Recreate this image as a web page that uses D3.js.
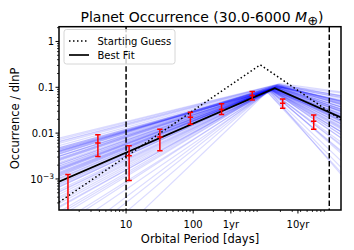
<!DOCTYPE html>
<html><head><meta charset="utf-8">
<script src="https://cdn.jsdelivr.net/npm/d3@7"></script>
<style>html,body{margin:0;padding:0;background:#fff;}svg{display:block;font-family:"DejaVu Sans",sans-serif;}</style>
</head><body>
<svg id="c" width="354" height="250"></svg>
<script>
// ---- data ----
const xTickValues = [10, 100, 365, 3650];
const xTickLabels = ["10", "100", "1yr", "10yr"];
const yTickValues = [1, 0.1, 0.01, 0.001];
const yTickLabels = ["1", "0.1", "0.01", "10^-3"];
const limitLines = [10, 10700];

const obsP  = [1.36, 3.8, 11.1, 31.9, 91, 265, 760, 2160, 6270];
const obsY  = [1.5e-4, 6.1e-3, 3.2e-3, 8.2e-3, 0.0221, 0.0326, 0.066, 0.0448, 0.0181];
const obsLo = [1e-5, 3.1e-3, 9.2e-4, 4.1e-3, 0.0157, 0.0254, 0.053, 0.0347, 0.0121];
const obsHi = [1.25e-3, 9.2e-3, 5.3e-3, 0.0122, 0.0284, 0.0435, 0.0805, 0.0558, 0.025];

const guessP = [1, 1000, 16000];
const guessY = [3.1e-4, 0.31, 0.0195];
const fitP = [1, 1650, 16000];
const fitY = [8.7e-4, 0.096, 0.022];

// posterior samples: break period (days), height at break, inner slope, outer slope
const samplePeak = [1600,1750,1400,1900,1550,1680,1300,2100,1500,1820,1450,1700,1250,1950,1620,1380,2000,1580,1720,1480,
1660,1350,1850,1530,1780,1420,2200,1610,1490,1740,1560,1900,1330,1690,1470,2050,1640,1520,1800,1400,
1570,1710,1440,1880,1590,1270,1760,1510,1980,1630,1360,1830,1540,1670,1460,2150,1600,1390,1790,1500,
1650,1730,1410,1920,1560,1310,1870,1620,1480,2080,1700,1430,1810,1550,1640,1370,1960,1520,1750,1600];
const sampleHeight = [0.095,0.10,0.09,0.105,0.088,0.11,0.085,0.098,0.092,0.115,0.087,0.1,0.082,0.108,0.094,0.09,0.12,0.093,0.099,0.086,
0.097,0.089,0.104,0.091,0.112,0.084,0.1,0.096,0.088,0.103,0.093,0.118,0.086,0.101,0.09,0.106,0.095,0.087,0.109,0.083,
0.094,0.102,0.088,0.113,0.092,0.08,0.107,0.09,0.1,0.096,0.085,0.111,0.091,0.099,0.087,0.104,0.094,0.089,0.106,0.092,
0.098,0.101,0.086,0.114,0.093,0.083,0.105,0.096,0.089,0.1,0.097,0.088,0.108,0.091,0.095,0.085,0.11,0.09,0.102,0.094];
const sampleSlopeIn = [0.55,0.48,0.62,0.42,0.7,0.5,0.85,0.45,0.6,0.38,0.75,0.52,1.1,0.44,0.58,0.66,0.36,0.57,0.49,0.8,
0.54,0.68,0.41,0.63,0.46,0.92,0.4,0.56,0.72,0.47,0.59,0.37,1.25,0.51,0.65,0.43,0.55,0.78,0.45,1.0,
0.6,0.5,0.74,0.39,0.57,1.4,0.46,0.67,0.42,0.53,0.88,0.44,0.61,0.52,0.7,0.4,0.56,0.82,0.47,0.64,
0.53,0.49,0.77,0.38,0.59,1.15,0.45,0.55,0.69,0.41,0.51,0.86,0.44,0.62,0.54,0.95,0.4,0.66,0.48,0.58];
const sampleSlopeOut = [-0.6,-0.45,-0.75,-0.35,-0.9,-0.55,-1.2,-0.4,-0.65,-0.3,-0.8,-0.5,-1.5,-0.38,-0.7,-0.58,-0.2,-0.62,-0.48,-1.0,
-0.52,-0.85,-0.33,-0.68,-0.42,-1.3,-0.25,-0.6,-0.78,-0.46,-0.64,-0.28,-1.7,-0.54,-0.72,-0.36,-0.57,-0.95,-0.44,-1.1,
-0.66,-0.5,-0.82,-0.32,-0.6,-1.6,-0.43,-0.74,-0.3,-0.56,-1.05,-0.4,-0.69,-0.53,-0.88,-0.22,-0.61,-1.15,-0.47,-0.7,
-0.55,-0.49,-0.92,-0.27,-0.63,-1.4,-0.41,-0.58,-0.8,-0.34,-0.52,-1.0,-0.39,-0.67,-0.57,-1.25,-0.18,-0.73,-0.45,-0.62];

// ---- layout ----
const L = 59, R = 341, T = 26.7, B = 210;
const xDom = [1, 16000], yDom = [2.1e-4, 2.1];
const x = d3.scaleLog().domain(xDom).range([L, R]);
const y = d3.scaleLog().domain(yDom).range([B, T]);

const svg = d3.select("#c");
svg.append("defs").append("clipPath").attr("id", "clip")
  .append("rect").attr("x", L).attr("y", T).attr("width", R - L).attr("height", B - T);
const plot = svg.append("g").attr("clip-path", "url(#clip)");
const line = d3.line().x(d => x(d[0])).y(d => y(d[1]));

// samples
samplePeak.forEach((p, i) => {
  const h = sampleHeight[i];
  const pts = [[xDom[0], h * Math.pow(xDom[0] / p, sampleSlopeIn[i])], [p, h],
               [xDom[1], h * Math.pow(xDom[1] / p, sampleSlopeOut[i])]];
  plot.append("path").attr("d", line(pts)).attr("fill", "none")
    .attr("stroke", "#0000ff").attr("stroke-opacity", 0.14).attr("stroke-width", 1.2);
});

// limit lines
limitLines.forEach(v => {
  plot.append("line").attr("x1", x(v)).attr("x2", x(v)).attr("y1", T).attr("y2", B)
    .attr("stroke", "#000").attr("stroke-width", 1.5).attr("stroke-dasharray", "5.5,2.4");
});

// best fit & guess
plot.append("path").attr("d", line(fitP.map((p, i) => [p, fitY[i]])))
  .attr("fill", "none").attr("stroke", "#000").attr("stroke-width", 1.7);
plot.append("path").attr("d", line(guessP.map((p, i) => [p, guessY[i]])))
  .attr("fill", "none").attr("stroke", "#000").attr("stroke-width", 1.5).attr("stroke-dasharray", "1.5,2.5");

// error bars
obsP.forEach((p, i) => {
  const g = plot.append("g").attr("stroke", "#ff0000").attr("stroke-width", 1.5);
  const cx = x(p);
  g.append("line").attr("x1", cx).attr("x2", cx).attr("y1", y(obsLo[i])).attr("y2", y(obsHi[i]));
  [obsLo[i], obsHi[i], obsY[i]].forEach(v => {
    g.append("line").attr("x1", cx - 2.7).attr("x2", cx + 2.7).attr("y1", y(v)).attr("y2", y(v));
  });
});

// axes frame
svg.append("rect").attr("x", L).attr("y", T).attr("width", R - L).attr("height", B - T)
  .attr("fill", "none").attr("stroke", "#000").attr("stroke-width", 1.5);

// x ticks
const minorX = [];
for (let k = 0; k <= 4; k++) for (let m = 2; m <= 9; m++) { const v = m * Math.pow(10, k); if (v < xDom[1]) minorX.push(v); }
const axG = svg.append("g").attr("stroke", "#000");
minorX.forEach(v => axG.append("line").attr("x1", x(v)).attr("x2", x(v)).attr("y1", B).attr("y2", B + 2).attr("stroke-width", 0.8));
xTickValues.forEach((v, i) => {
  axG.append("line").attr("x1", x(v)).attr("x2", x(v)).attr("y1", B).attr("y2", B + 3.5).attr("stroke-width", 1);
  svg.append("text").attr("x", x(v)).attr("y", 228).attr("text-anchor", "middle")
    .attr("font-size", 10).attr("fill", "#000").text(xTickLabels[i]);
});
// y ticks
const minorY = [];
for (let k = -4; k <= 0; k++) for (let m = 2; m <= 9; m++) { const v = m * Math.pow(10, k); if (v > yDom[0] && v < yDom[1]) minorY.push(v); }
minorY.forEach(v => axG.append("line").attr("x1", L - 2).attr("x2", L).attr("y1", y(v)).attr("y2", y(v)).attr("stroke-width", 0.8));
yTickValues.forEach((v, i) => {
  axG.append("line").attr("x1", L - 3.5).attr("x2", L).attr("y1", y(v)).attr("y2", y(v)).attr("stroke-width", 1);
  const t = svg.append("text").attr("x", L - 5).attr("y", y(v) + 3.6).attr("text-anchor", "end")
    .attr("font-size", 10).attr("fill", "#000");
  const lab = yTickLabels[i];
  if (lab.includes("^")) {
    const [b, e] = lab.split("^");
    t.append("tspan").text(b);
    t.append("tspan").attr("dy", -4).attr("font-size", 7.5).text(e.replace("-", "\u2212"));
  } else t.text(lab);
});

// axis labels
svg.append("text").attr("x", (L + R) / 2).attr("y", 243).attr("text-anchor", "middle")
  .attr("font-size", 11.5).attr("fill", "#000").text("Orbital Period [days]");
svg.append("text").attr("transform", `translate(19,${(T + B) / 2}) rotate(-90)`).attr("text-anchor", "middle")
  .attr("font-size", 11.5).attr("fill", "#000").text("Occurrence / dlnP");

// title
const title = svg.append("text").attr("x", (L + R) / 2 + 2).attr("y", 22).attr("text-anchor", "middle")
  .attr("font-size", 14).attr("fill", "#000");
title.append("tspan").text("Planet Occurrence (30.0-6000 ");
title.append("tspan").attr("font-style", "italic").text("M");
title.append("tspan").attr("dy", 3).attr("font-size", 13).text("\u2295");
title.append("tspan").attr("dy", -3).text(")");

// legend
const lg = svg.append("g");
lg.append("rect").attr("x", 64).attr("y", 29.5).attr("width", 111).attr("height", 34.5).attr("rx", 2.5)
  .attr("fill", "#fff").attr("fill-opacity", 0.8).attr("stroke", "#ccc").attr("stroke-width", 0.8);
lg.append("line").attr("x1", 69).attr("x2", 89).attr("y1", 41).attr("y2", 41)
  .attr("stroke", "#000").attr("stroke-width", 1.5).attr("stroke-dasharray", "1.5,2.5");
lg.append("line").attr("x1", 69).attr("x2", 89).attr("y1", 55).attr("y2", 55)
  .attr("stroke", "#000").attr("stroke-width", 1.7);
lg.append("text").attr("x", 97.5).attr("y", 44.6).attr("font-size", 10).attr("fill", "#000").text("Starting Guess");
lg.append("text").attr("x", 97.5).attr("y", 58.6).attr("font-size", 10).attr("fill", "#000").text("Best Fit");
</script>
</body></html>
